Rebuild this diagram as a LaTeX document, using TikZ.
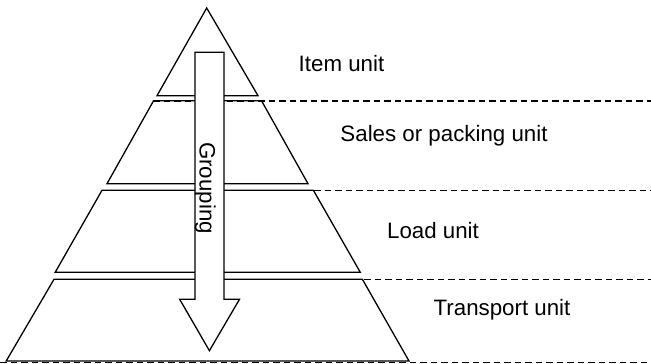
\documentclass[tikz,border=0pt]{standalone}
\usepackage{fontspec}
\setmainfont{Liberation Sans}
\begin{document}
\begin{tikzpicture}[x=1pt,y=-1pt,
  level/.style={draw=black,line width=1.3pt,line join=miter},
  guide/.style={draw=black,line width=1.3pt,dash pattern=on 6.5pt off 4pt},
  grouparrow/.style={draw=black,fill=white,line width=1.3pt},
  lab/.style={font=\fontsize{22.3}{26}\selectfont,anchor=base,inner sep=0pt}]
\useasboundingbox (0,0) rectangle (651,364);
% dashed guide lines
\draw[guide] (153,101) -- (651,101);
\draw[guide] (104,190.5) -- (651,190.5);
\draw[guide] (70,279.5) -- (651,279.5);
\draw[guide] (0,362.8) -- (651,362.8);
% pyramid levels
\draw[level] (206.7,8) -- (258,95.7) -- (157,95.7) -- cycle;
\draw[level] (153.6,100.7) -- (261.5,100.7) -- (308,183.7) -- (107,183.7) -- cycle;
\draw[level] (102,190.3) -- (313.4,190.3) -- (360.3,272.3) -- (55.2,272.3) -- cycle;
\draw[level] (54,279.3) -- (362.4,279.3) -- (409,361) -- (6.2,361) -- cycle;
% grouping arrow
\draw[grouparrow] (195,52.3) -- (224,52.3) -- (224,299.3) -- (239.5,299.3)
  -- (209.4,350.7) -- (179.7,299.3) -- (195,299.3) -- cycle;
\node[lab,rotate=-90] (grp) at (199.5,188) {Grouping};
% labels
\node[lab] (item) at (341.5,71.7) {Item unit};
\node[lab] (sales) at (444,141.7) {Sales or packing unit};
\node[lab] (load) at (433,238.8) {Load unit};
\node[lab] (transport) at (502,315) {Transport unit};
\end{tikzpicture}
\end{document}
